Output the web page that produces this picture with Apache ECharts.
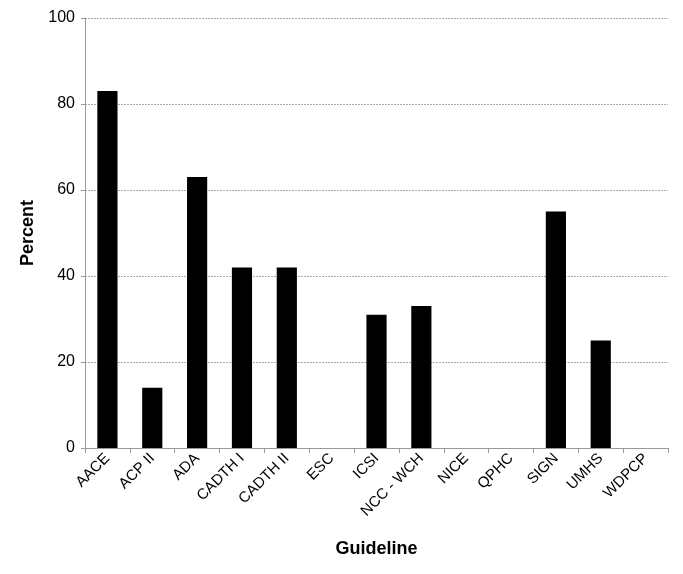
<!DOCTYPE html>
<html><head><meta charset="utf-8">
<script src="https://cdn.jsdelivr.net/npm/echarts@6/dist/echarts.min.js"></script>
<style>html,body{margin:0;padding:0;background:#fff}#c{width:683px;height:574px}</style>
</head><body><div id="c"></div>
<script>
const categories = ['AACE','ACP II','ADA','CADTH I','CADTH II','ESC','ICSI','NCC - WCH','NICE','QPHC','SIGN','UMHS','WDPCP'];
const percentValues = [83,14,63,42,42,0,31,33,0,0,55,25,0];
const yTicks = [0,20,40,60,80,100];

const chart = echarts.init(document.getElementById('c'));
chart.setOption({
  animation:false,
  backgroundColor:'#fff',
  textStyle:{fontFamily:'Liberation Sans, Arial, sans-serif'},
  grid:{left:85,right:15,top:18,bottom:126},
  xAxis:{
    type:'category',data:categories,
    name:'Guideline',nameLocation:'middle',nameGap:92,
    nameTextStyle:{fontSize:18,fontWeight:'bold',color:'#000'},
    axisLine:{lineStyle:{color:'#999',width:1}},
    axisTick:{show:true,length:5,lineStyle:{color:'#999'}},
    axisLabel:{rotate:45,fontSize:15,color:'#000',margin:8,interval:0}
  },
  yAxis:{
    type:'value',min:0,max:100,interval:20,
    name:'Percent',nameLocation:'middle',nameGap:46,
    nameTextStyle:{fontSize:18,fontWeight:'bold',color:'#000'},
    axisLine:{show:true,lineStyle:{color:'#999',width:1}},
    axisTick:{show:true,length:4,lineStyle:{color:'#999'}},
    axisLabel:{fontSize:16,color:'#000',margin:10},
    splitLine:{lineStyle:{color:'#aaa',type:[2,1],width:1}}
  },
  series:[{type:'bar',data:percentValues,barWidth:'45%',itemStyle:{color:'#000'}}]
});
</script></body></html>
